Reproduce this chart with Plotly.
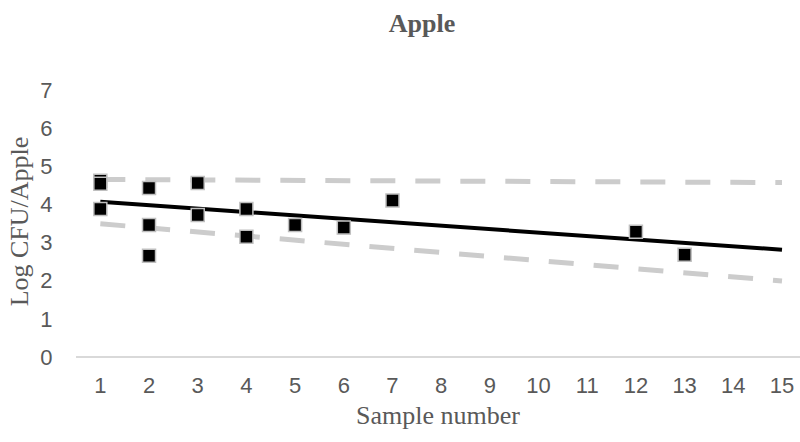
import plotly.graph_objects as go

# Observed counts per sample
sample_no = [1, 1, 1, 2, 2, 2, 3, 3, 4, 4, 5, 6, 7, 12, 13]
log_cfu = [4.62, 4.54, 3.88, 4.43, 3.46, 2.65, 4.56, 3.72, 3.88, 3.15, 3.46, 3.39, 4.10, 3.28, 2.68]

# Fitted trend and bounding lines (end points)
line_x = [1, 15]
trend_y = [4.07, 2.81]
upper_y = [4.65, 4.57]
lower_y = [3.49, 1.99]

x_ticks = list(range(1, 16))
y_ticks = list(range(0, 8))

GREY_TXT = "#595959"
DASH_GREY = "#cccccc"
CLEAR = "rgba(0,0,0,0)"

fig = go.Figure()

for ys in (upper_y, lower_y):
    fig.add_trace(go.Scatter(
        x=line_x, y=ys, mode="lines",
        line=dict(color=DASH_GREY, width=5, dash="25px,20px"),
        hoverinfo="skip", showlegend=False,
    ))

fig.add_trace(go.Scatter(
    x=line_x, y=trend_y, mode="lines",
    line=dict(color="black", width=4),
    hoverinfo="skip", showlegend=False,
))

fig.add_trace(go.Scatter(
    x=sample_no, y=log_cfu, mode="markers",
    marker=dict(symbol="square", size=13, color="black",
                line=dict(color="#bfbfbf", width=1.5)),
    showlegend=False,
))

fig.update_layout(
    width=800, height=442,
    margin=dict(l=76, r=0, t=86, b=85),
    paper_bgcolor="white", plot_bgcolor="white",
    title=dict(text="<b>Apple</b>", x=422 / 800, xanchor="center",
               y=1 - 23 / 442, yanchor="middle",
               font=dict(family="Liberation Serif", size=26, color=GREY_TXT)),
    xaxis=dict(
        range=[0.5, 15.37], tickvals=x_ticks, ticktext=[str(v) for v in x_ticks],
        showgrid=False, zeroline=False, showline=False,
        ticks="outside", ticklen=9, tickcolor=CLEAR,
        tickfont=dict(family="Liberation Sans", size=22, color=GREY_TXT),
        title=dict(text="Sample number", standoff=8,
                   font=dict(family="Liberation Serif", size=26, color=GREY_TXT)),
    ),
    yaxis=dict(
        range=[0, 7.1], tickvals=y_ticks, ticktext=[str(v) for v in y_ticks],
        showgrid=False, zeroline=True, zerolinecolor="#d9d9d9", zerolinewidth=1.5,
        showline=False,
        ticks="outside", ticklen=18, tickcolor=CLEAR,
        tickfont=dict(family="Liberation Sans", size=22, color=GREY_TXT),
        title=dict(text="Log CFU/Apple", standoff=4,
                   font=dict(family="Liberation Serif", size=26, color=GREY_TXT)),
    ),
)

fig.write_html("out.html")
